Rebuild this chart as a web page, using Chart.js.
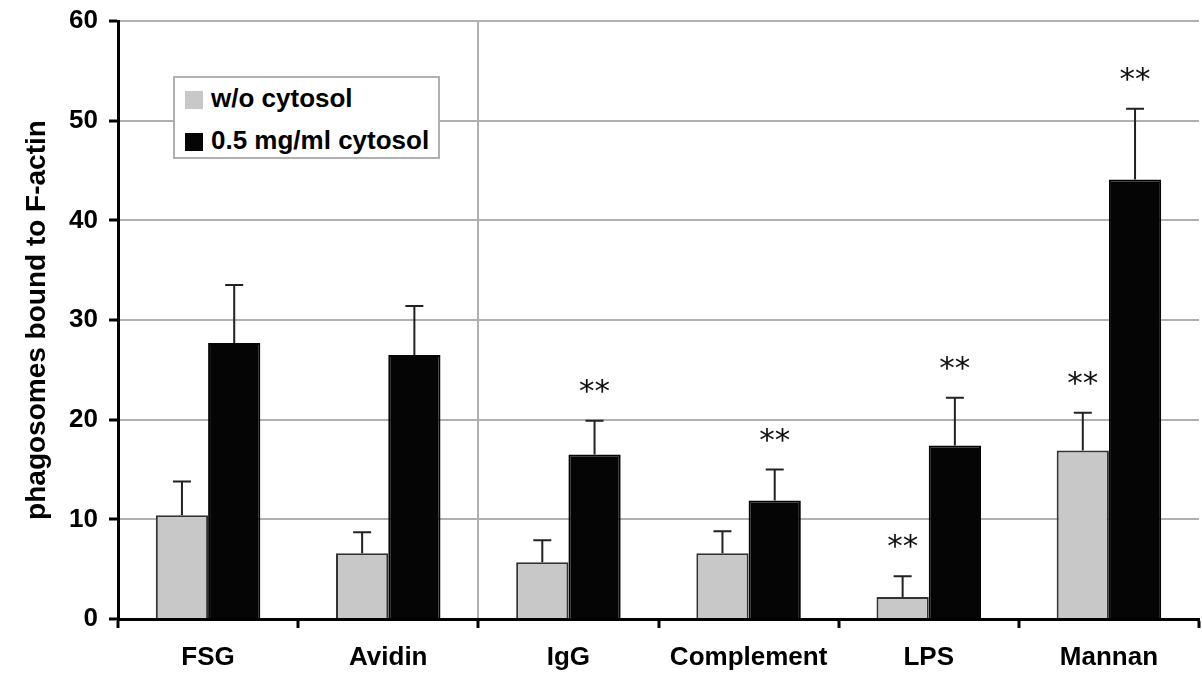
<!DOCTYPE html>
<html>
<head>
<meta charset="utf-8">
<script src="https://cdn.jsdelivr.net/npm/chart.js@4.4.1/dist/chart.umd.min.js"></script>
<style>
    html, body { margin: 0; padding: 0; background: #fff; }
    #wrap { position: relative; width: 1202px; height: 675px; }
    #legenda {
        position: absolute; left: 173px; top: 76px; width: 263px; height: 79px;
        border: 2px solid #b0b0b0; background: #fff;
        font: bold 26px "Liberation Sans", Arial, sans-serif; color: #000;
    }
    #legenda div { position: absolute; left: 10px; height: 30px; line-height: 30px; white-space: nowrap; }
    #legenda span.kv { display: inline-block; width: 18px; height: 18px; margin-right: 8px; vertical-align: -2px; }
</style>
</head>
<body>
<div id="wrap">
    <canvas id="graf" width="1202" height="675"></canvas>
    <div id="legenda">
        <div style="top:5px"><span class="kv" style="background:#c8c8c8"></span>w/o cytosol</div>
        <div style="top:47px"><span class="kv" style="background:#050505"></span>0.5 mg/ml cytosol</div>
    </div>
</div>
<script>
const kategorije = ['FSG', 'Avidin', 'IgG', 'Complement', 'LPS', 'Mannan'];

const bezCitosola = [10.4, 6.6, 5.7, 6.6, 2.2, 16.9];
const bezCitosolaGreska = [3.4, 2.1, 2.2, 2.2, 2.1, 3.8];
const bezCitosolaZvjezdice = [false, false, false, false, true, true];

const saCitosolom = [27.7, 26.5, 16.5, 11.9, 17.4, 44.1];
const saCitosolomGreska = [5.8, 4.9, 3.4, 3.1, 4.8, 7.1];
const saCitosolomZvjezdice = [false, false, true, true, true, true];

const yTickovi = [0, 10, 20, 30, 40, 50, 60];

const greske = [bezCitosolaGreska, saCitosolomGreska];
const zvjezdice = [bezCitosolaZvjezdice, saCitosolomZvjezdice];

// crta gornje error barove i oznake ** iznad njih
const greskePlugin = {
    id: 'greske',
    afterDatasetsDraw(chart) {
        const ctx = chart.ctx;
        const y = chart.scales.y;
        chart.data.datasets.forEach(function(ds, d) {
            const meta = chart.getDatasetMeta(d);
            meta.data.forEach(function(bar, i) {
                const vrh = y.getPixelForValue(ds.data[i] + greske[d][i]);
                ctx.save();
                ctx.strokeStyle = '#222';
                ctx.lineWidth = 2;
                ctx.beginPath();
                ctx.moveTo(bar.x, bar.y);
                ctx.lineTo(bar.x, vrh);
                ctx.moveTo(bar.x - 9, vrh);
                ctx.lineTo(bar.x + 9, vrh);
                ctx.stroke();
                if (zvjezdice[d][i]) {
                    ctx.fillStyle = '#111';
                    ctx.font = '31px "DejaVu Sans", sans-serif';
                    ctx.textAlign = 'center';
                    ctx.textBaseline = 'alphabetic';
                    ctx.fillText('**', bar.x, vrh - 20);
                }
                ctx.restore();
            });
        });
    }
};

const font = { family: '"Liberation Sans", Arial, sans-serif', weight: 'bold', size: 26 };

new Chart(document.getElementById('graf'), {
    type: 'bar',
    data: {
        labels: kategorije,
        datasets: [{
            label: 'w/o cytosol',
            data: bezCitosola,
            backgroundColor: '#c8c8c8',
            borderColor: '#333',
            borderWidth: 2
        }, {
            label: '0.5 mg/ml cytosol',
            data: saCitosolom,
            backgroundColor: '#050505',
            borderColor: '#050505',
            borderWidth: 2
        }]
    },
    options: {
        responsive: false,
        animation: false,
        layout: { padding: { top: 21, right: 3, left: 20, bottom: 0 } },
        plugins: { legend: { display: false }, tooltip: { enabled: false } },
        datasets: { bar: { categoryPercentage: 0.58, barPercentage: 1.0 } },
        scales: {
            x: {
                offset: true,
                grid: {
                    offset: true,
                    color: function(c) { return (c.index === 2 || c.index === 6) ? '#b0b0b0' : 'rgba(0,0,0,0)'; },
                    lineWidth: 2,
                    tickColor: '#000',
                    tickLength: 9,
                    tickWidth: 3
                },
                border: { color: '#000', width: 3 },
                ticks: { color: '#000', font: font, padding: 14 },
                afterFit: function(s) { s.height = 56; }
            },
            y: {
                min: 0,
                max: 60,
                afterBuildTicks: function(s) { s.ticks = yTickovi.map(function(v) { return { value: v }; }); },
                grid: { color: '#b0b0b0', lineWidth: 2, tickColor: '#000', tickLength: 9, tickWidth: 3 },
                border: { color: '#000', width: 3 },
                ticks: { color: '#000', font: font, padding: 11 },
                title: {
                    display: true,
                    text: 'phagosomes bound to F-actin',
                    color: '#000',
                    font: { family: '"Liberation Sans", Arial, sans-serif', weight: 'bold', size: 28 },
                    padding: { top: 0, bottom: 6 }
                },
                afterFit: function(s) { s.width = 98; s.paddingTop = 0; s.paddingBottom = 0; }
            }
        }
    },
    plugins: [greskePlugin]
});
</script>
</body>
</html>
